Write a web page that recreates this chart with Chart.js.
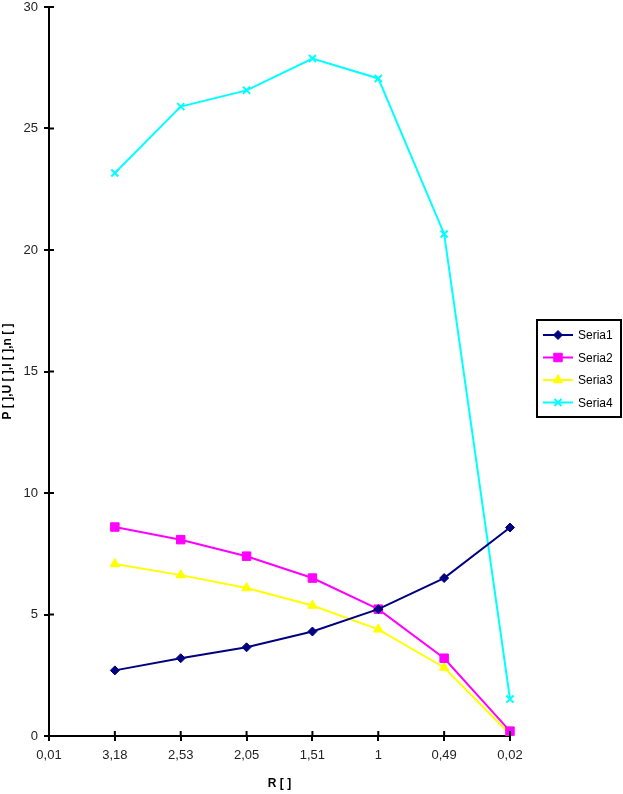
<!DOCTYPE html>
<html>
<head>
<meta charset="utf-8">
<script src="https://cdn.jsdelivr.net/npm/chart.js@4.4.0/dist/chart.umd.min.js"></script>
<style>
  body { margin: 0; background: #fff; }
  #wrap { width: 623px; height: 794px; }
</style>
</head>
<body>
<div id="wrap"><canvas id="chart" width="623" height="794"></canvas></div>
<script>
let categories = ["0,01", "3,18", "2,53", "2,05", "1,51", "1", "0,49", "0,02"];
let seria1 = [null, 2.7, 3.2, 3.65, 4.3, 5.22, 6.5, 8.58];
let seria2 = [null, 8.6, 8.08, 7.4, 6.5, 5.22, 3.2, 0.2];
let seria3 = [null, 7.08, 6.62, 6.09, 5.37, 4.39, 2.82, 0.07];
let seria4 = [null, 23.17, 25.9, 26.57, 27.88, 27.06, 20.66, 1.52];
let series_names = ["Seria1", "Seria2", "Seria3", "Seria4"];
let series_colors = ["#000080", "#ff00ff", "#ffff00", "#00ffff"];
let point_styles = ["rectRot", "rect", "triangle", "crossRot"];
let point_sizes = [4.5, 6, 5.5, 5];
let y_ticks = [0, 5, 10, 15, 20, 25, 30];

Chart.defaults.font.family = "'Liberation Sans', Arial, Helvetica, sans-serif";
Chart.defaults.color = "#000";

function make_dataset(i, values) {
    return {
        label: series_names[i],
        data: values,
        borderColor: series_colors[i],
        backgroundColor: series_colors[i],
        pointBackgroundColor: series_colors[i],
        pointBorderColor: series_colors[i],
        borderWidth: 2,
        pointStyle: point_styles[i],
        pointRadius: point_sizes[i],
        pointBorderWidth: i == 3 ? 2 : 1,
        tension: 0,
        spanGaps: true,
    };
}

// ticks cross the axis in the original, draw the inner half here
let innerTicks = {
    id: 'innerTicks',
    afterDraw: (chart) => {
        const {ctx, chartArea, scales} = chart;
        ctx.save();
        ctx.strokeStyle = '#000';
        ctx.lineWidth = 2;
        ctx.beginPath();
        scales.y.ticks.forEach((t, i) => {
            let py = scales.y.getPixelForTick(i);
            ctx.moveTo(chartArea.left, py);
            ctx.lineTo(chartArea.left + 5, py);
        });
        scales.x.ticks.forEach((t, i) => {
            let px = scales.x.getPixelForTick(i);
            ctx.moveTo(px, chartArea.bottom);
            ctx.lineTo(px, chartArea.bottom - 5);
        });
        ctx.stroke();
        ctx.restore();
    }
};

// excel style legend: boxed, line + marker samples
let boxLegend = {
    id: 'boxLegend',
    afterDraw: (chart) => {
        const {ctx} = chart;
        let x0 = 537, y0 = 320, w = 84, h = 97;
        ctx.save();
        ctx.strokeStyle = '#000';
        ctx.lineWidth = 2;
        ctx.strokeRect(x0, y0, w, h);
        ctx.font = "12px 'Liberation Sans', Arial, sans-serif";
        ctx.textBaseline = 'middle';
        chart.data.datasets.forEach((ds, i) => {
            let yy = 335 + i * 22.5;
            ctx.strokeStyle = ds.borderColor;
            ctx.fillStyle = ds.borderColor;
            ctx.lineWidth = 2;
            ctx.beginPath();
            ctx.moveTo(543, yy);
            ctx.lineTo(573, yy);
            ctx.stroke();
            ctx.lineWidth = ds.pointBorderWidth;
            Chart.helpers.drawPoint(ctx, {
                pointStyle: ds.pointStyle,
                radius: ds.pointRadius,
                rotation: 0,
                borderWidth: ds.pointBorderWidth,
            }, 558, yy);
            ctx.fillStyle = '#000';
            ctx.fillText(ds.label, 578, yy + 1);
        });
        ctx.restore();
    }
};

let options_line = {
    responsive: false,
    animation: false,
    layout: {
        padding: {top: 5, right: 113, left: 0, bottom: 0}
    },
    scales: {
        x: {
            type: 'category',
            offset: false,
            grid: {
                display: true,
                drawOnChartArea: false,
                color: '#000',
                lineWidth: 2,
                tickLength: 5,
            },
            border: {display: true, color: '#000', width: 2},
            ticks: {
                color: '#222',
                font: {size: 13},
                padding: 7,
                maxRotation: 0,
                autoSkip: false,
            },
            title: {
                display: true,
                text: 'R [ ]',
                color: '#000',
                font: {size: 12, weight: 'bold'},
                padding: {top: 0, bottom: 3},
            },
            afterFit: (scale) => { scale.height = 58; },
        },
        y: {
            min: 0,
            max: 30,
            afterBuildTicks: (scale) => {
                scale.ticks = y_ticks.map(v => ({value: v}));
            },
            grid: {
                display: true,
                drawOnChartArea: false,
                color: '#000',
                lineWidth: 2,
                tickLength: 5,
            },
            border: {display: true, color: '#000', width: 2},
            ticks: {
                color: '#222',
                font: {size: 13},
                padding: 6,
            },
            title: {
                display: true,
                text: 'P [ ],U [ ],I [ ],n [ ]',
                color: '#000',
                font: {size: 12, weight: 'bold'},
                padding: {top: 0, bottom: 0},
            },
            afterFit: (scale) => { scale.width = 49; scale.paddingTop = 0; },
        },
    },
    plugins: {
        legend: {display: false},
        tooltip: {enabled: false},
    },
};

let chart_obj = new Chart(document.getElementById('chart'), {
    type: 'line',
    data: {
        labels: categories,
        datasets: [
            make_dataset(0, seria1),
            make_dataset(1, seria2),
            make_dataset(2, seria3),
            make_dataset(3, seria4),
        ],
    },
    options: options_line,
    plugins: [innerTicks, boxLegend],
});
</script>
</body>
</html>
